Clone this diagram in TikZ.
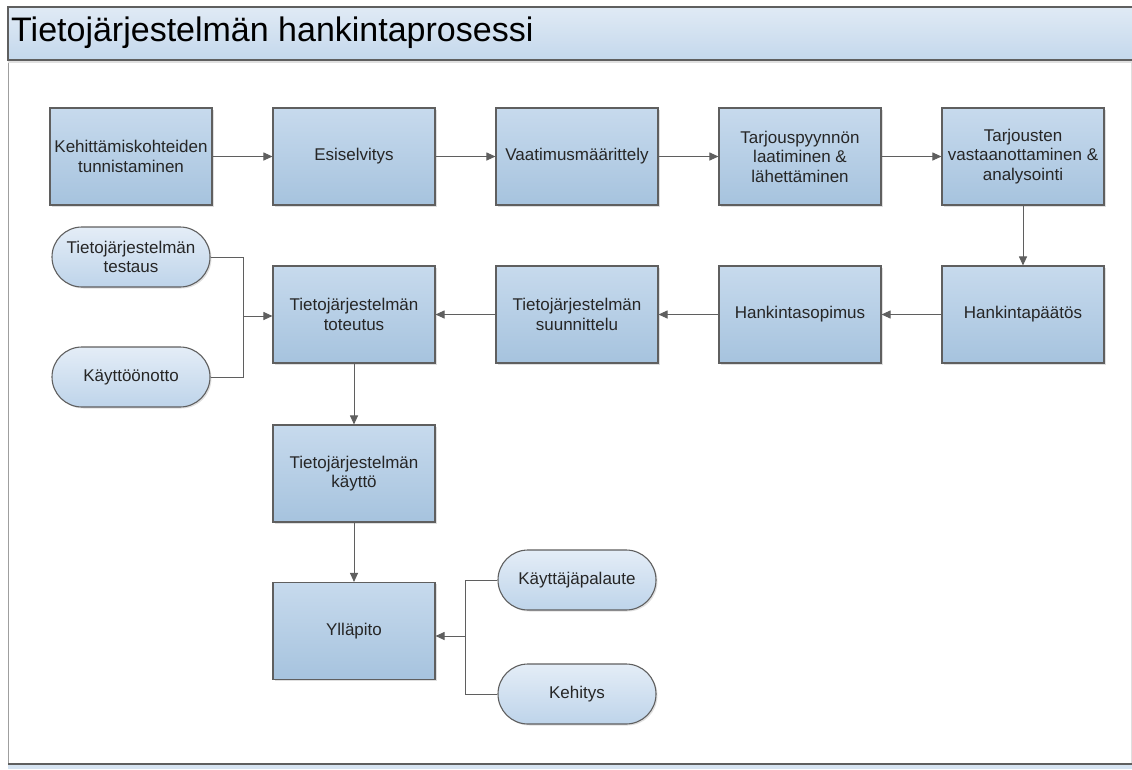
\documentclass[tikz,border=0pt]{standalone}
\usepackage{fontspec}
\setmainfont{Liberation Sans}
\usepackage{xcolor}
\usepackage{tikz}
\usetikzlibrary{shapes.misc}
\usetikzlibrary{arrows.meta}
\usetikzlibrary{shadows}

\definecolor{boxtop}{RGB}{199,218,237}
\definecolor{boxbot}{RGB}{166,195,222}
\definecolor{pilltop}{RGB}{228,237,247}
\definecolor{pillbot}{RGB}{190,212,234}
\definecolor{edgegray}{RGB}{95,95,95}
\definecolor{bartop}{RGB}{224,234,245}
\definecolor{barbot}{RGB}{196,216,236}

\begin{document}
\begin{tikzpicture}[
    x=1pt, y=-1pt,
    every node/.style={font=\fontsize{17}{19.5}\selectfont, align=center, text=black!85},
    stepbox/.style={rectangle, draw=edgegray, line width=1.1pt,
      top color=boxtop, bottom color=boxbot,
      minimum width=162pt, minimum height=97pt, inner sep=2pt,
      drop shadow={shadow xshift=1.5pt, shadow yshift=-1.5pt, opacity=0.25}},
    pillbox/.style={rounded rectangle, draw=edgegray, line width=1.1pt,
      top color=pilltop, bottom color=pillbot,
      minimum width=162pt, minimum height=60pt, inner sep=2pt,
      drop shadow={shadow xshift=1.5pt, shadow yshift=-1.5pt, opacity=0.25}},
    link/.style={draw=edgegray, line width=1pt},
    flow/.style={link, -{Triangle[length=9pt, width=8pt]}},
  ]

  \useasboundingbox (0,0) rectangle (1132,769);

  % frame and title bar
  \draw[edgegray!60, line width=0.8pt] (8,60) -- (8,764);
  \draw[edgegray!20, line width=0.8pt] (1131,60) -- (1131,764);
  \fill[barbot!70] (8,765) rectangle (1132,769);
  \draw[edgegray, line width=1.2pt] (8,764) -- (1132,764);
  \fill[black!12] (8,60) rectangle (1132,63);
  \shade[top color=bartop, bottom color=barbot] (8,7) rectangle (1132,60);
  \draw[edgegray, line width=1.1pt] (1132,7) -- (8,7) -- (8,60) -- (1132,60);
  \node[anchor=west, inner sep=0pt, font=\fontsize{34}{40}\selectfont, text=black] (title) at (11,33)
    {Tietojärjestelmän hankintaprosessi};

  \node[stepbox] (tunnistus) at (131, 156.5)  {Kehittämiskohteiden\\tunnistaminen};
  \node[stepbox] (esiselv)   at (354, 156.5)  {Esiselvitys};
  \node[stepbox] (vaatim)    at (577, 156.5)  {Vaatimusmäärittely};
  \node[stepbox] (pyynto)    at (800, 156.5)  {Tarjouspyynnön\\laatiminen \&\\lähettäminen};
  \node[stepbox] (tarjous)   at (1023, 156.5) {Tarjousten\\vastaanottaminen \&\\analysointi};

  \node[stepbox] (paatos)    at (1023, 314.5) {Hankintapäätös};
  \node[stepbox] (sopimus)   at (800, 314.5)  {Hankintasopimus};
  \node[stepbox] (suunn)     at (577, 314.5)  {Tietojärjestelmän\\suunnittelu};
  \node[stepbox] (toteutus)  at (354, 314.5)  {Tietojärjestelmän\\toteutus};
  \node[stepbox] (kaytto)    at (354, 473.5)  {Tietojärjestelmän\\käyttö};
  \node[stepbox] (yllapito)  at (354, 631)    {Ylläpito};

  \node[pillbox] (testaus)   at (131, 257)    {Tietojärjestelmän\\testaus};
  \node[pillbox] (kayttoon)  at (131, 377)    {Käyttöönotto};
  \node[pillbox] (palaute)   at (577, 580)    {Käyttäjäpalaute};
  \node[pillbox] (kehitys)   at (577, 694)    {Kehitys};

  \coordinate (liitos1) at (243, 316);
  \coordinate (liitos2) at (465, 636);

  \draw[flow] (tunnistus) -- (esiselv);
  \draw[flow] (esiselv)   -- (vaatim);
  \draw[flow] (vaatim)    -- (pyynto);
  \draw[flow] (pyynto)    -- (tarjous);
  \draw[flow] (tarjous)   -- (paatos);
  \draw[flow] (paatos)    -- (sopimus);
  \draw[flow] (sopimus)   -- (suunn);
  \draw[flow] (suunn)     -- (toteutus);
  \draw[flow] (toteutus)  -- (kaytto);
  \draw[flow] (kaytto)    -- (yllapito);

  \draw[link] (testaus.east)  -| (liitos1);
  \draw[link] (kayttoon.east) -| (liitos1);
  \draw[flow] (liitos1) -- (toteutus.west |- liitos1);
  \draw[link] (palaute.west)  -| (liitos2);
  \draw[link] (kehitys.west)  -| (liitos2);
  \draw[flow] (liitos2) -- (yllapito.east |- liitos2);

\end{tikzpicture}
\end{document}
